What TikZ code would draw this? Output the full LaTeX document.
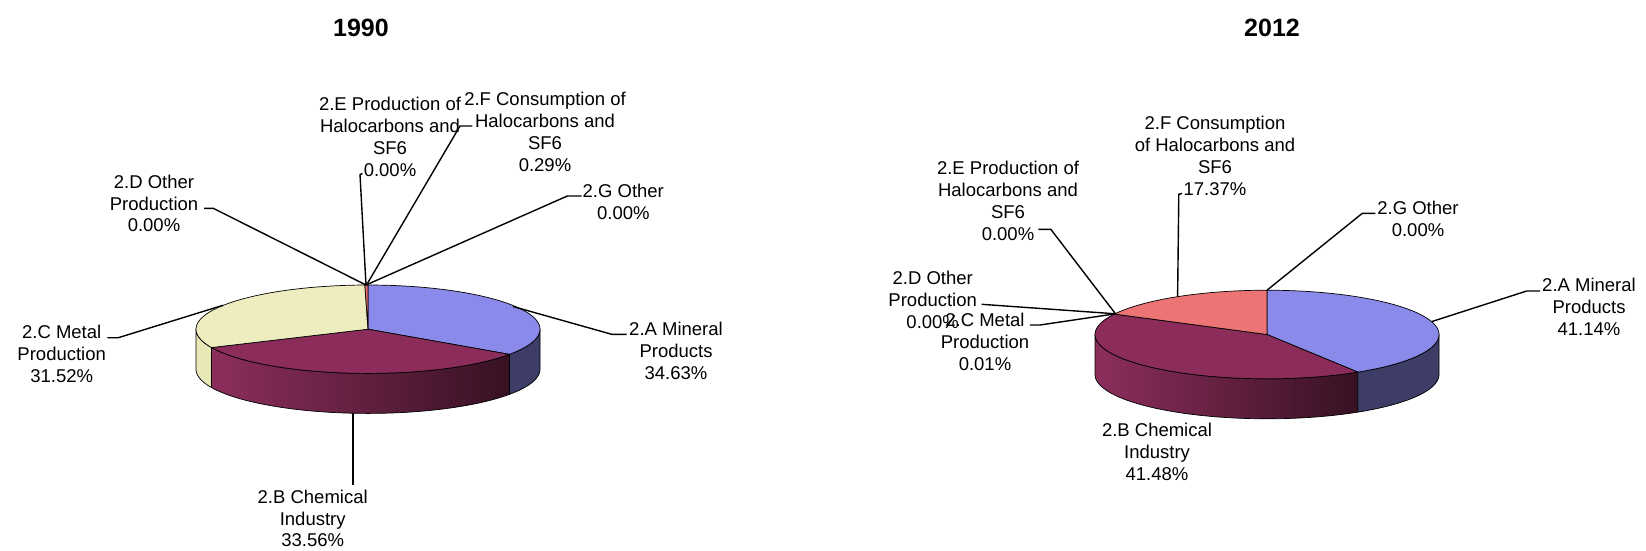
\documentclass[tikz,border=0pt]{standalone}
\usepackage{fontspec}
\setmainfont{Liberation Sans}
\definecolor{blueTop}{RGB}{138,138,234}
\definecolor{blueSide}{RGB}{61,61,103}
\definecolor{marTop}{RGB}{139,44,90}
\definecolor{marL}{RGB}{141,46,93}
\definecolor{marR}{RGB}{55,17,35}
\definecolor{yelTop}{RGB}{238,237,192}
\definecolor{yelSide}{RGB}{232,231,182}
\definecolor{salTop}{RGB}{236,116,116}
\newcommand{\sideface}[3]{\path[#1] plot[domain=#2:#3,samples=60] ({\pcx+\prx*cos(\x)},{\pcy-\pry*sin(\x)}) -- plot[domain=#3:#2,samples=60] ({\pcx+\prx*cos(\x)},{\pcy+\pdep-\pry*sin(\x)}) -- cycle;}
\newcommand{\topface}[3]{\path[#1] (\pcx,\pcy) -- plot[domain=#2:#3,samples=80] ({\pcx+\prx*cos(\x)},{\pcy-\pry*sin(\x)}) -- cycle;}
\begin{document}
\begin{tikzpicture}[x=1pt,y=-1pt,
  lbl/.style={font=\fontsize{18.5}{21.7}\selectfont, align=center, inner sep=0pt, anchor=north},
  ttl/.style={font=\fontsize{25}{30}\selectfont\bfseries, inner sep=0pt},
  leader/.style={line width=1.4pt, black, line join=miter},
  edge/.style={draw=black, line width=0.7pt, line join=round}]
\useasboundingbox[fill=white] (0,0) rectangle (1646,550);

% ---------- titles
\node[ttl] (t1990) at (361,28.3) {1990};
\node[ttl] (t2012) at (1272,28.3) {2012};

% ---------- left pie (1990)
\def\pcx{368}\def\pcy{329.2}\def\prx{172}\def\pry{44.2}\def\pdep{40}
\sideface{edge,fill=yelSide}{180}{204.516}
\sideface{edge,left color=marL,right color=marR}{204.516}{325.332}
\sideface{edge,fill=blueSide}{325.332}{360}
\topface{edge,fill=blueTop}{-34.668}{90}
\topface{edge,fill=marTop}{204.516}{325.332}
\topface{edge,fill=yelTop}{91.044}{204.516}
\topface{edge,fill=salTop}{90}{91.044}

% ---------- right pie (2012)
\def\pcx{1267}\def\pcy{334.5}\def\prx{172}\def\pry{44.3}\def\pdep{40}
\sideface{edge,left color=marL,right color=marR}{180}{301.896}
\sideface{edge,fill=blueSide}{301.896}{360}
\topface{edge,fill=blueTop}{-58.104}{90}
\topface{edge,fill=marTop}{152.568}{301.896}
\topface{edge,fill=salTop}{90}{152.532}

% ---------- left labels
\node[lbl] (LA) at (676,322.3) {2.A Mineral\\Products\\34.63\%};
\node[lbl] (LB) at (312.7,489.7) {2.B Chemical\\Industry\\33.56\%};
\node[lbl] (LC) at (61.7,325.3) {2.C Metal\\Production\\31.52\%};
\node[lbl] (LD) at (154,174.7) {2.D Other\\Production\\0.00\%};
\node[lbl] (LE) at (390,97.3) {2.E Production of\\Halocarbons and\\SF6\\0.00\%};
\node[lbl] (LF) at (545,92.3) {2.F Consumption of\\Halocarbons and\\SF6\\0.29\%};
\node[lbl] (LG) at (623.3,183.7) {2.G Other\\0.00\%};

% ---------- right labels
\node[lbl] (RA) at (1589,278) {2.A Mineral\\Products\\41.14\%};
\node[lbl] (RB) at (1157,423) {2.B Chemical\\Industry\\41.48\%};
\node[lbl] (RD) at (932.7,271.3) {2.D Other\\Production\\0.00\%};
\node[lbl] (RC) at (985,313) {2.C Metal\\Production\\0.01\%};
\node[lbl] (RE) at (1008,161.3) {2.E Production of\\Halocarbons and\\SF6\\0.00\%};
\node[lbl] (RF) at (1215,116.3) {2.F Consumption\\of Halocarbons and\\SF6\\17.37\%};
\node[lbl] (RG) at (1418,201.3) {2.G Other\\0.00\%};

% ---------- left leader coordinates
\coordinate (L-top) at (366,285);
\coordinate (L-Ap) at (513,306.5);
\coordinate (L-Bp) at (352.8,413);
\coordinate (L-Cp) at (223,305.3);
\coordinate (L-Fp) at (366.5,285);
\coordinate (L-A1) at (626.7,334.3);
\coordinate (L-A2) at (611.7,334.3);
\coordinate (L-B1) at (352.8,485);
\coordinate (L-C1) at (107.3,337.7);
\coordinate (L-C2) at (118.3,337.7);
\coordinate (L-D1) at (204,208.3);
\coordinate (L-D2) at (213.3,208.3);
\coordinate (L-E1) at (362.5,173.5);
\coordinate (L-E2) at (360,174.5);
\coordinate (L-F1) at (472.3,126);
\coordinate (L-F2) at (460,126);
\coordinate (L-G1) at (581.7,196);
\coordinate (L-G2) at (567.3,196);

\draw[leader] (L-A1) -- (L-A2) -- (L-Ap);
\draw[leader] (L-B1) -- (L-Bp);
\draw[leader] (L-C1) -- (L-C2) -- (L-Cp);
\draw[leader] (L-D1) -- (L-D2) -- (L-top);
\draw[leader] (L-E1) -- (L-E2) -- (L-top);
\draw[leader] (L-F1) -- (L-F2) -- (L-Fp);
\draw[leader] (L-G1) -- (L-G2) -- (L-top);

% ---------- right leader coordinates
\coordinate (R-top) at (1267,290.2);
\coordinate (R-Ap) at (1432,321.5);
\coordinate (R-Fp) at (1177.6,296.5);
\coordinate (R-knot) at (1115.5,313.8);
\coordinate (R-A1) at (1540,291);
\coordinate (R-A2) at (1526.7,291);
\coordinate (R-C1) at (1030,325);
\coordinate (R-C2) at (1040,325);
\coordinate (R-D1) at (981.7,304.3);
\coordinate (R-E1) at (1038.4,229.3);
\coordinate (R-E2) at (1050.8,229.3);
\coordinate (R-F1) at (1182,193.5);
\coordinate (R-F2) at (1178.8,194.3);
\coordinate (R-G1) at (1375.4,213.3);
\coordinate (R-G2) at (1362.3,213.3);

\draw[leader] (R-A1) -- (R-A2) -- (R-Ap);
\draw[leader] (R-C1) -- (R-C2) -- (R-knot);
\draw[leader] (R-D1) -- (R-knot);
\draw[leader] (R-E1) -- (R-E2) -- (R-knot);
\draw[leader] (R-F1) -- (R-F2) -- (R-Fp);
\draw[leader] (R-G1) -- (R-G2) -- (R-top);
\end{tikzpicture}
\end{document}
